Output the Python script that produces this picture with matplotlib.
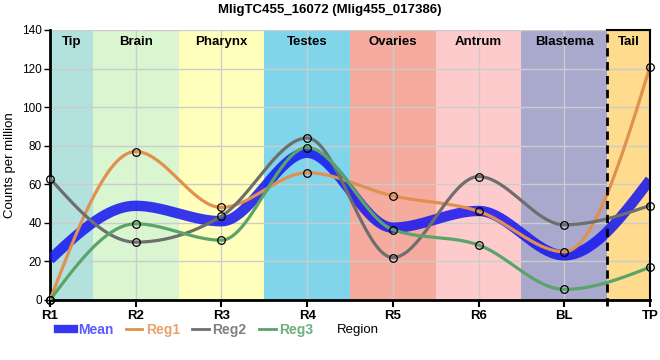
import numpy as np
import matplotlib.pyplot as plt
from matplotlib.lines import Line2D

plt.rcParams['font.family'] = ['Liberation Sans', 'DejaVu Sans']

# data
regions = ['R1', 'R2', 'R3', 'R4', 'R5', 'R6', 'BL', 'TP']
reg1 = [0, 77, 48, 66, 54, 46, 25, 121]
reg2 = [63, 30, 43.5, 84, 22, 64, 39, 49]
reg3 = [0, 39.5, 31, 79, 36.5, 28.5, 5.5, 17]
mean = list(np.mean([reg1, reg2, reg3], axis=0))

band_names = ['Tip', 'Brain', 'Pharynx', 'Testes', 'Ovaries', 'Antrum', 'Blastema', 'Tail']
band_colors = ['#b3e2de', '#d9f6d0', '#ffffbb', '#80d5eb', '#f5ab9d', '#fdcbcb', '#a9a8cd', '#fedb8d']


def monotone(xs, ys, n=40):
    # monotone cubic curve (d3 curveMonotoneX style)
    xs = np.asarray(xs, float)
    ys = np.asarray(ys, float)
    k = len(xs)
    h = np.diff(xs)
    s = np.diff(ys) / h
    t = np.zeros(k)
    for i in range(1, k - 1):
        p = (s[i - 1] * h[i] + s[i] * h[i - 1]) / (h[i - 1] + h[i])
        t[i] = (np.sign(s[i - 1]) + np.sign(s[i])) * min(abs(s[i - 1]), abs(s[i]), 0.5 * abs(p))
    t[0] = (3 * s[0] - t[1]) / 2
    t[-1] = (3 * s[-1] - t[-2]) / 2
    u = np.linspace(0, 1, n)[:, None]
    out = []
    for i in range(k - 1):
        dx = h[i] / 3
        p0 = np.array([xs[i], ys[i]])
        p1 = np.array([xs[i] + dx, ys[i] + dx * t[i]])
        p2 = np.array([xs[i + 1] - dx, ys[i + 1] - dx * t[i + 1]])
        p3 = np.array([xs[i + 1], ys[i + 1]])
        seg = (1 - u) ** 3 * p0 + 3 * (1 - u) ** 2 * u * p1 + 3 * (1 - u) * u ** 2 * p2 + u ** 3 * p3
        out.append(seg if i == 0 else seg[1:])
    out = np.vstack(out)
    return out[:, 0], out[:, 1]


fig = plt.figure(figsize=(6.6, 3.6), dpi=100)
ax = fig.add_axes([50 / 660, 60 / 360, 600 / 660, 270 / 360])

x = np.arange(len(regions))
n = len(regions)

# region bands
edges = [0, 0.5, 1.5, 2.5, 3.5, 4.5, 5.5, 6.5, 7]
for i in range(len(band_names)):
    ax.axvspan(edges[i], edges[i + 1], color=band_colors[i], lw=0, zorder=0)
    ax.text((edges[i] + edges[i + 1]) / 2, 137, band_names[i], ha='center', va='top',
            fontsize=9.5, fontweight='bold', zorder=5)

ax.set_xlim(0, n - 1)
ax.set_ylim(0, 140)
ax.set_xticks(x)
ax.set_xticklabels(regions, fontsize=9.5, fontweight='bold')
ax.set_yticks(range(0, 141, 20))
ax.tick_params(axis='y', labelsize=8.5, length=4, width=1, pad=2)
ax.tick_params(axis='x', length=5, width=1.5, pad=2)
ax.grid(True, color='#cccccc', lw=1, zorder=1)
ax.set_axisbelow(True)

for s in ['top', 'right']:
    ax.spines[s].set_visible(False)
ax.spines['left'].set_linewidth(2)
ax.spines['bottom'].set_linewidth(2)

# tail box border and blastema/tail divider
ax.plot([6.5, 6.5], [-3, 140], color='black', lw=2, ls=(0, (3, 2)), clip_on=False, zorder=6)
ax.plot([6.5, 7], [140, 140], color='black', lw=1.5, clip_on=False, zorder=6)
ax.plot([7, 7], [0, 140], color='black', lw=1.5, clip_on=False, zorder=6)

sx, sy = monotone(x, mean)
ax.plot(sx, sy, color='#1414f0', lw=7.5, alpha=0.85, solid_capstyle='butt', zorder=3)

series = [(reg1, '#e0904f'), (reg2, '#6e6e6e'), (reg3, '#5aa46a')]
for vals, col in series:
    sx, sy = monotone(x, vals)
    ax.plot(sx, sy, color=col, lw=2.3, zorder=4)
for vals, col in series:
    ax.plot(x, vals, ls='none', marker='o', ms=5.5, mfc='none', mec='black', mew=0.9,
            zorder=7, clip_on=False)

ax.set_ylabel('Counts per million', fontsize=9.5, labelpad=4)

handles = [Line2D([], [], color='#1414f0', lw=6, alpha=0.85),
           Line2D([], [], color='#e0904f', lw=2),
           Line2D([], [], color='#6e6e6e', lw=2),
           Line2D([], [], color='#5aa46a', lw=2)]
names = ['Mean', 'Reg1', 'Reg2', 'Reg3']
leg = fig.legend(handles, names, ncol=4, loc='center left', bbox_to_anchor=(45 / 660, 1 - 330 / 360),
                 frameon=False, handlelength=1.2, handletextpad=0.25, columnspacing=0.9,
                 prop={'weight': 'bold', 'size': 10})
text_colors = ['#5a5aff', '#eba070', '#808080', '#6ab07a']
for t, c in zip(leg.get_texts(), text_colors):
    t.set_color(c)
fig.text(358 / 660, 1 - 330 / 360, 'Region', ha='center', va='center', fontsize=9.5)

fig.suptitle('MligTC455_16072 (Mlig455_017386)', y=1 - 10 / 360, va='center',
             fontsize=9.5, fontweight='bold')

fig.savefig('out.png', dpi=100)
